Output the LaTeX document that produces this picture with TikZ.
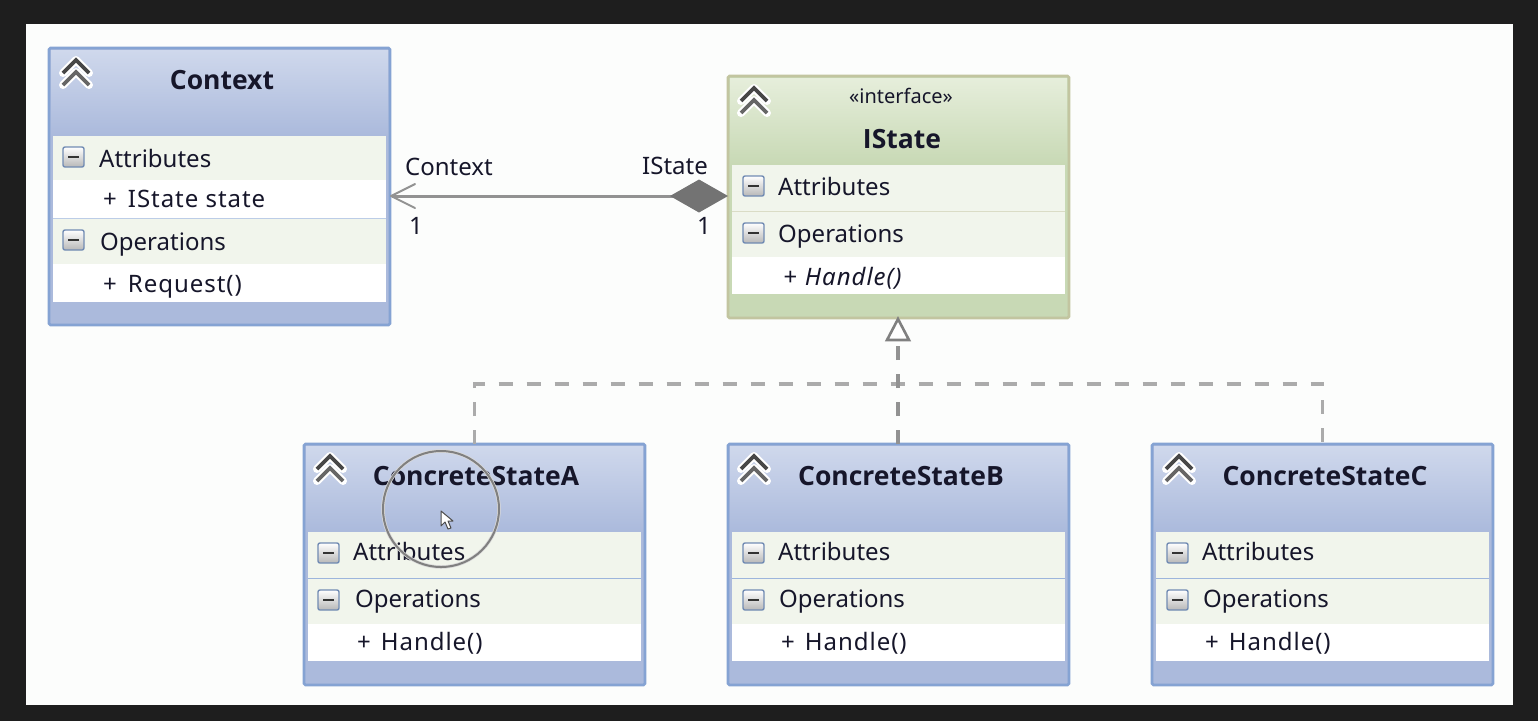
\documentclass[tikz,border=0pt]{standalone}
\usepackage{fontspec}
\setmainfont{Noto Sans}
\newfontfamily\titlefont{Open Sans}
\newfontfamily\memberfont{Noto Sans}[LetterSpace=4]
\usetikzlibrary{arrows.meta}
\definecolor{pagebg}{HTML}{1E1E1E}
\definecolor{canvasbg}{HTML}{FCFDFC}
\definecolor{bluebd}{HTML}{85A3D3}
\definecolor{bluetop}{HTML}{CFD8EC}
\definecolor{bluebot}{HTML}{ABBADC}
\definecolor{greenbd}{HTML}{C2C5A0}
\definecolor{greentop}{HTML}{E6EEDB}
\definecolor{greenbot}{HTML}{C8D9B5}
\definecolor{bandblue}{HTML}{F1F5EC}
\definecolor{bandgreen}{HTML}{F1F5EC}
\definecolor{linkgray}{HTML}{929292}
\definecolor{dashgray}{HTML}{ABABAB}
\definecolor{inkc}{HTML}{16162A}
\tikzset{
  x=1pt,y=-1pt,
  classframe/.style={anchor=north west,inner sep=0pt,outer sep=0pt,line width=2.6pt,rounded corners=1.5pt,minimum width=#1},
  sectionlabel/.style={anchor=base west,inner sep=0pt,text=inkc,font=\fontsize{24}{24}\selectfont},
  memberlabel/.style={anchor=base west,inner sep=0pt,text=inkc,font=\fontsize{24}{24}\memberfont},
  titlelabel/.style={anchor=center,inner sep=0pt,text=inkc,font=\fontsize{26.5}{26.5}\titlefont\bfseries},
  linklabel/.style={anchor=base west,inner sep=0pt,text=inkc,font=\fontsize{24}{24}\selectfont},
  linkline/.style={draw=linkgray,line width=3pt},
  dashline/.style={draw=dashgray,line width=3.5pt,dash pattern=on 14pt off 14pt},
  chevronink/.style={line width=3.6pt,draw=#1,line join=miter},
}
% chevron icon: x, y of the top point
\newcommand{\chevrons}[2]{%
  \draw[white,line width=8pt,line join=round,line cap=round] ({#1-13},{#2+13}) -- (#1,#2) -- ({#1+13},{#2+13}) ({#1-13},{#2+25}) -- (#1,{#2+12}) -- ({#1+13},{#2+25});
  \draw[chevronink=black!72] ({#1-13},{#2+13}) -- (#1,#2) -- ({#1+13},{#2+13});
  \draw[chevronink=black!60] ({#1-13},{#2+25}) -- (#1,{#2+12}) -- ({#1+13},{#2+25});
}
% minus toggle: x, y of the top left corner
\newcommand{\togglebtn}[2]{%
  \draw[draw=bluebd!85!black,line width=1.4pt,rounded corners=2pt,top color=white,bottom color=black!28] (#1,#2) rectangle ({#1+21},{#2+20});
  \draw[black!80,line width=2.4pt] ({#1+5},{#2+10}) -- ({#1+16},{#2+10});
}
% frame: name, x, ytop, ybottom, yheadbottom, bordercolor, topcolor, botcolor
\newcommand{\frameshell}[8]{%
  \pgfmathsetmacro{\frameh}{#4-#3}
  \node[classframe=341pt,minimum height=\frameh pt,draw=#6,fill=#8] (#1) at (#2,#3) {};
  \shade[top color=#7,bottom color=#8] ({#2+2},{#3+2}) rectangle ({#2+339},#5);
}
\newcommand{\bandrect}[4]{\fill[#4] ({#1+4},#2) rectangle ({#1+337},#3);}
\begin{document}
\begin{tikzpicture}
\useasboundingbox (0,0) rectangle (1538,721);
\fill[pagebg] (0,0) rectangle (1538,721);
\fill[canvasbg] (26,24) rectangle (1513,705);

% ---- Context
\frameshell{context}{49}{48}{325}{135}{bluebd}{bluetop}{bluebot}
\bandrect{49}{136}{180}{bandblue}
\bandrect{49}{180}{218}{white}
\bandrect{49}{219}{264}{bandblue}
\bandrect{49}{264}{302}{white}
\draw[bluebd!55,line width=1.5pt] (53,218.5) -- (386,218.5);
\chevrons{76}{60}
\togglebtn{63}{147}
\togglebtn{63}{230}
\node[titlelabel] (contextT) at (222,80) {Context};
\node[sectionlabel] (contextA) at (99,167) {Attributes};
\node[memberlabel] (contextS) at (103,207) {+\hskip 11pt IState state};
\node[sectionlabel] (contextO) at (100,250) {Operations};
\node[memberlabel] (contextR) at (103,292) {+\hskip 11pt Request()};

% ---- IState
\frameshell{istate}{728}{76}{318}{164}{greenbd}{greentop}{greenbot}
\bandrect{728}{165}{211}{bandgreen}
\bandrect{728}{212}{257}{bandgreen}
\bandrect{728}{257}{294}{white}
\draw[greenbd!60,line width=1.5pt] (732,211.5) -- (1065,211.5);
\chevrons{754}{88}
\togglebtn{743}{176}
\togglebtn{743}{223}
\node[anchor=center,inner sep=0pt,text=inkc,font=\fontsize{20}{20}\selectfont] (istateS) at (901,96) {«interface»};
\node[titlelabel] (istateT) at (902,139) {IState};
\node[sectionlabel] (istateA) at (778,195) {Attributes};
\node[sectionlabel] (istateO) at (778,242) {Operations};
\node[memberlabel,font=\fontsize{24}{24}\memberfont\itshape] (istateH) at (783,285) {+\hskip 8pt Handle()};

% ---- Concrete states
\frameshell{stateA}{304}{444}{685}{531}{bluebd}{bluetop}{bluebot}
\bandrect{304}{532}{578}{bandblue}
\bandrect{304}{579}{624}{bandblue}
\bandrect{304}{624}{661}{white}
\draw[bluebd!80,line width=1.5pt] (308,578.5) -- (641,578.5);
\chevrons{330}{456}
\togglebtn{318}{543}
\togglebtn{318}{590}
\node[titlelabel] (stateAT) at (476,476) {ConcreteStateA};
\node[sectionlabel] (stateAA) at (353,560) {Attributes};
\node[sectionlabel] (stateAO) at (355,607) {Operations};
\node[memberlabel] (stateAH) at (357,650) {+\hskip 10pt Handle()};

\frameshell{stateB}{728}{444}{685}{531}{bluebd}{bluetop}{bluebot}
\bandrect{728}{532}{578}{bandblue}
\bandrect{728}{579}{624}{bandblue}
\bandrect{728}{624}{661}{white}
\draw[bluebd!80,line width=1.5pt] (732,578.5) -- (1065,578.5);
\chevrons{754}{456}
\togglebtn{743}{543}
\togglebtn{743}{590}
\node[titlelabel] (stateBT) at (901,476) {ConcreteStateB};
\node[sectionlabel] (stateBA) at (778,560) {Attributes};
\node[sectionlabel] (stateBO) at (779,607) {Operations};
\node[memberlabel] (stateBH) at (781,650) {+\hskip 10pt Handle()};

\frameshell{stateC}{1152}{444}{685}{531}{bluebd}{bluetop}{bluebot}
\bandrect{1152}{532}{578}{bandblue}
\bandrect{1152}{579}{624}{bandblue}
\bandrect{1152}{624}{661}{white}
\draw[bluebd!80,line width=1.5pt] (1156,578.5) -- (1489,578.5);
\chevrons{1179}{456}
\togglebtn{1167}{543}
\togglebtn{1167}{590}
\node[titlelabel] (stateCT) at (1325,476) {ConcreteStateC};
\node[sectionlabel] (stateCA) at (1202,560) {Attributes};
\node[sectionlabel] (stateCO) at (1203,607) {Operations};
\node[memberlabel] (stateCH) at (1205,650) {+\hskip 10pt Handle()};

% ---- Association
\coordinate (assocY) at (0,196);
\coordinate (busY) at (0,384);
\coordinate (triBase) at (898,341);
\draw[linkline,{Straight Barb[length=24pt,width=24pt,line width=2pt,round]}-{Diamond[length=58pt,width=33pt,fill=black!55,color=black!55]}]
  (context.east |- assocY) -- (istate.west |- assocY);
\node[linklabel] (lblContext) at (405,175) {Context};
\node[linklabel] (lblIState) at (642,174) {IState};
\node[linklabel] (lblOneL) at (409,234) {1};
\node[linklabel] (lblOneR) at (697,234) {1};

% ---- Realisation
\draw[dashline] (stateA.north) -- (stateA.north |- busY) -- (stateC.north |- busY) -- (stateC.north);
\draw[draw=linkgray,line width=3.5pt,dash pattern=on 14pt off 14pt] (triBase |- stateB.north) -- (triBase);
\fill[white] (898,319) -- (909,340) -- (887,340) -- cycle;
\draw[draw=black!50,line width=2.6pt,line join=miter] (898,319) -- (909,340) -- (887,340) -- cycle;

% ---- Screen recording cursor highlight
\draw[white!85!black,line width=3.5pt] (441,509) circle (58);
\draw[black!50,line width=2pt] (441,509) circle (58);
\filldraw[fill=white,draw=black!70,line width=1pt,line join=round] (441,511) -- (441,526) -- (445,522) -- (448,529) -- (451,528) -- (448,521) -- (453,521) -- cycle;
\end{tikzpicture}
\end{document}
